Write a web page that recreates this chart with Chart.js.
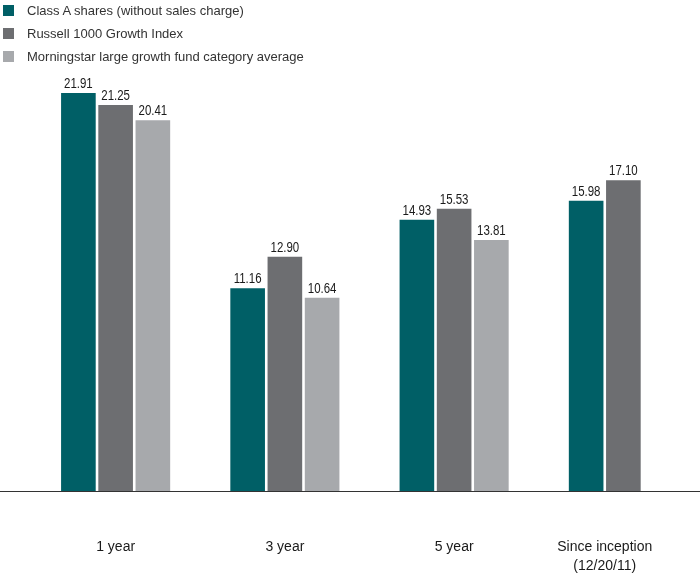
<!DOCTYPE html>
<html>
<head>
<meta charset="utf-8">
<script src="https://cdn.jsdelivr.net/npm/chart.js@4.4.0/dist/chart.umd.min.js"></script>
<style>
    html, body { margin: 0; padding: 0; background: #fff; overflow: hidden; }
    #wrap { position: relative; width: 700px; height: 575px; overflow: hidden; }
    #chart { position: absolute; left: 0; top: 0; }
    #legend { position: absolute; left: 3px; top: -1px; font: 13px "Liberation Sans", Arial, sans-serif; color: #333; }
    .legend-item { display: flex; align-items: center; height: 23px; }
    .legend-box { width: 11px; height: 11px; margin-right: 13px; }
</style>
</head>
<body>
<div id="wrap">
    <canvas id="chart" width="708" height="575"></canvas>
    <div id="legend"></div>
</div>
<script>
// Chart data
const categories = ['1 year', '3 year', '5 year', ['Since inception', '(12/20/11)']];
const seriesNames = [
    'Class A shares (without sales charge)',
    'Russell 1000 Growth Index',
    'Morningstar large growth fund category average'
];
const classA = [21.91, 11.16, 14.93, 15.98];
const russell = [21.25, 12.90, 15.53, 17.10];
const morningstar = [20.41, 10.64, 13.81, null];
const colors = ['#005f66', '#6d6e71', '#a7a9ac'];

// Value labels above each bar (slightly condensed, like the original)
const valueLabels = {
    id: 'valueLabels',
    afterDatasetsDraw(chart) {
        const ctx = chart.ctx;
        chart.data.datasets.forEach((ds, i) => {
            chart.getDatasetMeta(i).data.forEach((bar, j) => {
                if (ds.data[j] == null) return;
                ctx.save();
                ctx.translate(bar.x, bar.y - 2);
                ctx.scale(0.82, 1);
                ctx.font = '14px "Liberation Sans", Arial, sans-serif';
                ctx.fillStyle = '#1a1a1a';
                ctx.textAlign = 'center';
                ctx.textBaseline = 'bottom';
                ctx.fillText(ds.data[j].toFixed(2), 0, 0);
                ctx.restore();
            });
        });
    }
};

// Baseline across the full width and category labels under each group
const axisLabels = {
    id: 'axisLabels',
    afterDraw(chart) {
        const ctx = chart.ctx;
        const y0 = chart.scales.y.getPixelForValue(0);
        ctx.save();
        ctx.strokeStyle = '#333';
        ctx.lineWidth = 1;
        ctx.beginPath();
        ctx.moveTo(0, Math.round(y0) + 0.5);
        ctx.lineTo(700, Math.round(y0) + 0.5);
        ctx.stroke();

        ctx.font = '14px "Liberation Sans", Arial, sans-serif';
        ctx.fillStyle = '#1a1a1a';
        ctx.textAlign = 'center';
        ctx.textBaseline = 'middle';
        chart.data.labels.forEach((label, j) => {
            // center under the bars that are actually drawn
            const xs = [];
            chart.data.datasets.forEach((ds, i) => {
                if (ds.data[j] != null) xs.push(chart.getDatasetMeta(i).data[j].x);
            });
            const cx = xs.reduce((a, b) => a + b, 0) / xs.length;
            const lines = Array.isArray(label) ? label : [label];
            lines.forEach((line, k) => {
                ctx.fillText(line, cx, y0 + 56 + k * 19);
            });
        });
        ctx.restore();
    }
};

const chart = new Chart(document.getElementById('chart'), {
    type: 'bar',
    data: {
        labels: categories,
        datasets: [
            { label: seriesNames[0], data: classA, backgroundColor: colors[0] },
            { label: seriesNames[1], data: russell, backgroundColor: colors[1] },
            { label: seriesNames[2], data: morningstar, backgroundColor: colors[2] }
        ]
    },
    options: {
        responsive: false,
        animation: false,
        layout: { padding: { top: 55, bottom: 84, left: 31, right: 0 } },
        datasets: {
            bar: { barPercentage: 0.93, categoryPercentage: 0.66, borderWidth: 0 }
        },
        scales: {
            x: { display: false },
            y: { display: false, min: 0, max: 24 }
        },
        plugins: {
            legend: { display: false },
            tooltip: { enabled: false }
        }
    },
    plugins: [valueLabels, axisLabels]
});

// HTML legend, stacked vertically
const legendEl = document.getElementById('legend');
chart.data.datasets.forEach(ds => {
    const item = document.createElement('div');
    item.className = 'legend-item';
    const box = document.createElement('span');
    box.className = 'legend-box';
    box.style.background = ds.backgroundColor;
    const text = document.createElement('span');
    text.textContent = ds.label;
    item.appendChild(box);
    item.appendChild(text);
    legendEl.appendChild(item);
});
</script>
</body>
</html>
